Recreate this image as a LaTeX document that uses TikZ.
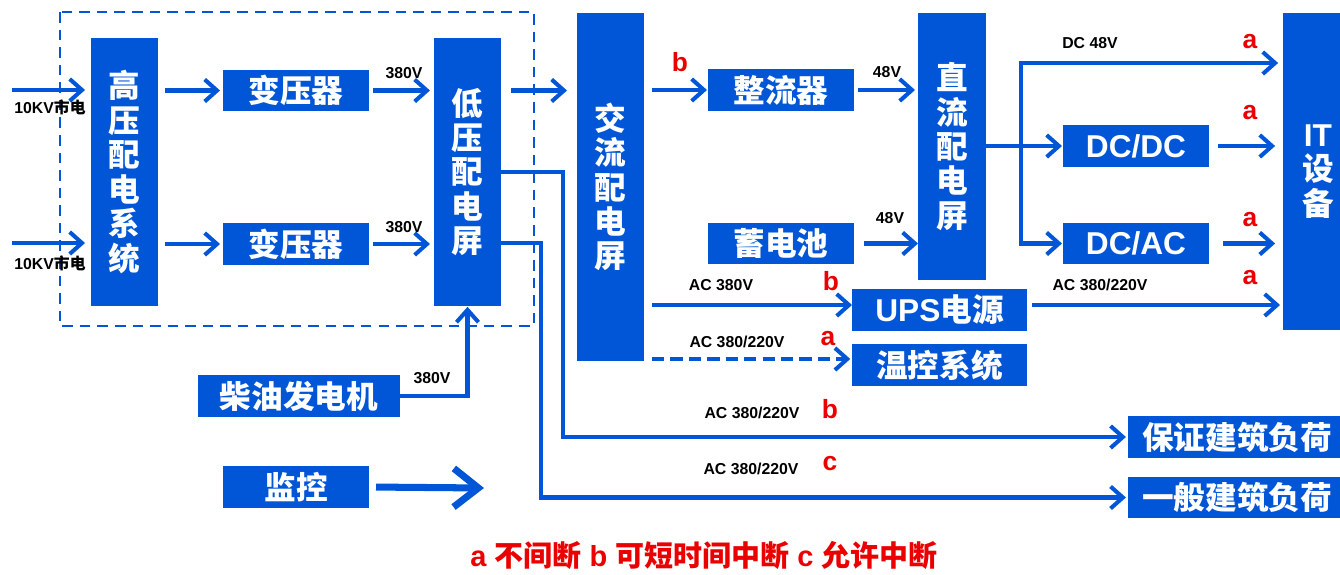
\documentclass[tikz,border=0pt]{standalone}
\usepackage{fontspec}
\setmainfont{Liberation Sans}
\newfontfamily\cjk{Noto Sans CJK SC}
\usetikzlibrary{arrows.meta,calc}
\definecolor{mblue}{RGB}{0,86,214}
\definecolor{mred}{RGB}{235,0,0}
\newcommand\zh[1]{{\cjk #1}}
\begin{document}
\begin{tikzpicture}[x=0.02cm,y=-0.02cm,
  box/.style={fill=mblue, text=white, inner sep=0pt, outer sep=0pt, align=center,
    font=\cjk\bfseries\fontsize{18}{19.6}\selectfont},
  sz/.style 2 args={minimum width=#1*0.56906pt, minimum height=#2*0.56906pt},
  arr/.style={draw=mblue, line width=2.3pt, -{Straight Barb[length=7pt,width=12.5pt]}},
  bigarr/.style={draw=mblue, line width=4pt, -{Straight Barb[length=14pt,width=22pt]}},
  frame/.style={draw=mblue, line width=1.6pt, dash pattern=on 6pt off 4pt},
  dasharr/.style={arr, dash pattern=on 7pt off 3.5pt},
  lbl/.style={inner sep=0pt, font=\bfseries\fontsize{9}{10}\selectfont},
  redl/.style={inner sep=0pt, text=mred, font=\bfseries\fontsize{15}{16}\selectfont},
]
\useasboundingbox (0,0) rectangle (1340,575);
\clip (0,0) rectangle (1340,575);

% frame
\draw[frame] (60,12) rectangle (534,326);

% boxes
\node[box, sz={67}{268}] (hv) at (124.5,172) {高\\压\\配\\电\\系\\统};
\node[box, sz={146}{41}] (t1) at (296,90.5) {变压器};
\node[box, sz={146}{42}] (t2) at (296,244) {变压器};
\node[box, sz={67}{268}] (lv) at (467.5,172) {低\\压\\配\\电\\屏};
\node[box, sz={67}{348}] (ac) at (610.5,187) {交\\流\\配\\电\\屏};
\node[box, sz={146}{42}] (rect) at (781,90) {整流器};
\node[box, sz={146}{41}] (bat) at (781,243.5) {蓄电池};
\node[box, sz={68}{267}] (dc) at (952,146.5) {直\\流\\配\\电\\屏};
\node[box, sz={146}{42}] (dcdc) at (1136,146) {{\rmfamily DC/DC}};
\node[box, sz={146}{41}] (dcac) at (1136,243.5) {{\rmfamily DC/AC}};
\node[box, sz={70}{317}] (it) at (1318,171.5) {{\rmfamily IT}\\设\\备};
\node[box, sz={175}{42}] (ups) at (939.5,310) {{\rmfamily UPS}电源};
\node[box, sz={175}{42}] (temp) at (939.5,365) {温控系统};
\node[box, sz={202}{42}] (gen) at (299,396) {柴油发电机};
\node[box, sz={146}{42}] (mon) at (296,487) {监控};
\node[box, sz={218}{42}] (bz) at (1237,437) {保证建筑负荷};
\node[box, sz={218}{41}] (yb) at (1237,497.5) {一般建筑负荷};

% helper coordinates
\coordinate (in1) at (12,90);
\coordinate (in2) at (12,243);
\coordinate (k1) at (563,172);
\coordinate (k2) at (541,243);
\coordinate (br) at (1021,63);
\coordinate (yups) at (0,305);
\coordinate (ytemp) at (0,359);
\coordinate (monend) at (484,488);

% connectors
\draw[arr, shorten >=3.4pt] (in1) -- (hv.west |- in1);
\draw[arr, shorten >=3.4pt] (in2) -- (hv.west |- in2);
\draw[arr, shorten <=4pt, shorten >=1.7pt] (hv.east |- t1.west) -- (t1.west);
\draw[arr, shorten <=4pt, shorten >=1.7pt] (hv.east |- t2.west) -- (t2.west);
\draw[arr, shorten <=2.3pt, shorten >=2.3pt] (t1.east) -- (lv.west |- t1.east);
\draw[arr, shorten <=2.3pt, shorten >=2.3pt] (t2.east) -- (lv.west |- t2.east);
\draw[arr, shorten <=5.7pt, shorten >=5.7pt] (lv.east |- t1.east) -- (ac.west |- t1.east);
\draw[arr, shorten >=1.2pt] (lv.east |- k1) -- (k1) |- (bz.west);
\draw[arr, shorten >=1.2pt] (lv.east |- k2) -- (k2) |- (yb.west);
\draw[arr, shorten >=0.5pt] (gen.east) -| (lv.south);
\draw[arr, shorten <=4.5pt, shorten >=0.6pt] (ac.east |- rect.west) -- (rect.west);
\draw[arr, shorten <=2.3pt, shorten >=1.7pt] (rect.east) -- (dc.west |- rect.east);
\draw[arr, shorten <=5.7pt] (bat.east) -- (dc.west |- bat.east);
\draw[arr, shorten >=0.6pt] (dc.east |- dcdc.west) -- (dcdc.west);
\draw[arr, shorten >=0.6pt] (br |- dcdc.west) -- (br |- dcac.west) -- (dcac.west);
\draw[arr, shorten >=2.8pt] (br |- dcdc.west) -- (br) -- (it.west |- br);
\draw[arr, shorten <=5pt, shorten >=4.5pt] (dcdc.east) -- (it.west |- dcdc.east);
\draw[arr, shorten <=8pt, shorten >=4.5pt] (dcac.east) -- (it.west |- dcac.east);
\draw[arr, shorten <=4.5pt] (ac.east |- yups) -- (ups.west |- yups);
\draw[arr, shorten <=2.8pt, shorten >=1.7pt] (ups.east |- yups) -- (it.west |- yups);
\draw[dasharr, shorten <=4.5pt, shorten >=1pt] (ac.east |- ytemp) -- (temp.west |- ytemp);
\draw[bigarr, shorten <=4pt] (mon.east) -- (monend);

% labels
\node[lbl] (l1) at (50,107) {10KV\zh{市电}};
\node[lbl] (l2) at (50,263) {10KV\zh{市电}};
\node[lbl] (l3) at (404,73) {380V};
\node[lbl] (l4) at (404,227) {380V};
\node[lbl] (l5) at (432,378) {380V};
\node[lbl] (l6) at (887,72) {48V};
\node[lbl] (l7) at (890,218) {48V};
\node[lbl] (l8) at (1090,43) {DC 48V};
\node[lbl] (l9) at (721,285) {AC 380V};
\node[lbl] (l10) at (737,342) {AC 380/220V};
\node[lbl] (l11) at (1100,285) {AC 380/220V};
\node[lbl] (l12) at (752,413) {AC 380/220V};
\node[lbl] (l13) at (751,469) {AC 380/220V};

\node[redl] (r1) at (680,62) {b};
\node[redl] (r2) at (1250,42) {a};
\node[redl] (r3) at (1250,113) {a};
\node[redl] (r4) at (1250,220) {a};
\node[redl] (r5) at (1250,278) {a};
\node[redl] (r6) at (831,281) {b};
\node[redl] (r7) at (828,339) {a};
\node[redl] (r8) at (830,409) {b};
\node[redl] (r9) at (830,464) {c};

\node[text=mred, font=\bfseries\fontsize{16.5}{18}\selectfont] (legend) at (704,555)
  {a \zh{不间断} b \zh{可短时间中断} c \zh{允许中断}};
\end{tikzpicture}
\end{document}
